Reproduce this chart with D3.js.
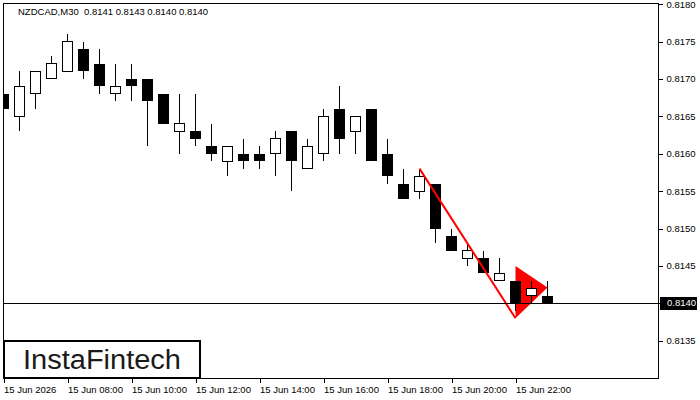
<!DOCTYPE html>
<html>
<head>
<meta charset="utf-8">
<script src="https://cdn.jsdelivr.net/npm/d3@7"></script>
<style>
  html, body { margin: 0; padding: 0; background: #fff; }
  svg { display: block; }
  text { font-family: "Liberation Sans", Arial, sans-serif; }
</style>
</head>
<body>
<svg id="chart" width="700" height="400"></svg>
<script>
// ---- data ----
const times = ["06:00","06:30","07:00","07:30","08:00","08:30","09:00","09:30","10:00","10:30",
  "11:00","11:30","12:00","12:30","13:00","13:30","14:00","14:30","15:00","15:30",
  "16:00","16:30","17:00","17:30","18:00","18:30","19:00","19:30","20:00","20:30",
  "21:00","21:30","22:00","22:30","23:00"];
const open  = [0.8168,0.8165,0.8168,0.8170,0.8171,0.8174,0.8172,0.8168,0.8170,0.8170,
  0.8168,0.8163,0.8163,0.8161,0.8159,0.8160,0.8160,0.8160,0.8163,0.8158,
  0.8160,0.8166,0.8163,0.8166,0.8160,0.8156,0.8155,0.8156,0.8149,0.8146,
  0.8146,0.8143,0.8143,0.8141,0.8141];
const high  = [0.8170,0.8171,0.8171,0.8173,0.8176,0.8175,0.8174,0.8172,0.8172,0.8170,
  0.8168,0.8168,0.8168,0.8164,0.8161,0.8162,0.8161,0.8163,0.8163,0.8162,
  0.8166,0.8169,0.8165,0.8166,0.8162,0.8158,0.8158,0.8156,0.8150,0.8148,
  0.8147,0.8146,0.8143,0.8143,0.8143];
const low   = [0.8165,0.8163,0.8166,0.8170,0.8171,0.8170,0.8168,0.8167,0.8167,0.8161,
  0.8164,0.8160,0.8161,0.8159,0.8157,0.8158,0.8158,0.8157,0.8155,0.8158,
  0.8159,0.8160,0.8160,0.8159,0.8156,0.8154,0.8154,0.8148,0.8147,0.8145,
  0.8144,0.8143,0.8139,0.8140,0.8140];
const close = [0.8166,0.8169,0.8171,0.8172,0.8175,0.8171,0.8169,0.8169,0.8169,0.8167,
  0.8164,0.8164,0.8162,0.8160,0.8161,0.8159,0.8159,0.8162,0.8159,0.8161,
  0.8165,0.8162,0.8165,0.8159,0.8157,0.8154,0.8157,0.8150,0.8147,0.8147,
  0.8144,0.8144,0.8140,0.8142,0.8140];

const priceTicks = [0.8135,0.8140,0.8145,0.8150,0.8155,0.8160,0.8165,0.8170,0.8175,0.8180];
const timeTicks  = ["06:00","08:00","10:00","12:00","14:00","16:00","18:00","20:00","22:00"];
const timeTickLabels = ["15 Jun 2026","15 Jun 08:00","15 Jun 10:00","15 Jun 12:00","15 Jun 14:00",
  "15 Jun 16:00","15 Jun 18:00","15 Jun 20:00","15 Jun 22:00"];

const currentPrice = 0.8140;
const titleText = "NZDCAD,M30  0.8141 0.8143 0.8140 0.8140";

// pennant pattern
const poleTimes  = ["19:00","22:00"];
const polePrices = [0.8158, 0.8138];
const flagTimes  = ["22:00","22:00","23:00"];
const flagPrices = [0.8145, 0.8138, 0.81421];

// ---- layout ----
const L = 3, T = 3, R = 659, B = 379;
const svg = d3.select("#chart");
svg.append("rect").attr("width",700).attr("height",400).attr("fill","#fff");

const x = d3.scalePoint().domain(times).range([3, 3 + 16*(times.length-1)]);
const y = d3.scaleLinear().domain([0.8135, 0.8180]).range([340.7, 4.1]);

svg.append("defs").append("clipPath").attr("id","plotclip")
  .append("rect").attr("x",L).attr("y",T).attr("width",R-L).attr("height",B-T);

const plot = svg.append("g").attr("clip-path","url(#plotclip)");

// flag triangle (behind candles)
plot.append("path")
  .attr("d", d3.line()(flagTimes.map((t,i)=>[x(t)+0.5, y(flagPrices[i])])) + "Z")
  .attr("fill","#ff0000");

// candles
const candles = times.map((t,i)=>({t, o:open[i], h:high[i], l:low[i], c:close[i]}));
const cg = plot.append("g").attr("shape-rendering","crispEdges");
cg.selectAll("line.wick").data(candles).join("line")
  .attr("x1", d=>x(d.t)+0.5).attr("x2", d=>x(d.t)+0.5)
  .attr("y1", d=>y(d.h)).attr("y2", d=>y(d.l))
  .attr("stroke","#000").attr("stroke-width",1);
cg.selectAll("rect.body").data(candles).join("rect")
  .attr("x", d=> d.c >= d.o ? x(d.t)-4.5 : x(d.t)-5)
  .attr("width", d=> d.c >= d.o ? 10 : 11)
  .attr("y", d=> y(Math.max(d.o,d.c)))
  .attr("height", d=> Math.max(1, y(Math.min(d.o,d.c)) - y(Math.max(d.o,d.c))))
  .attr("fill", d=> d.c >= d.o ? "#fff" : "#000")
  .attr("stroke", d=> d.c >= d.o ? "#000" : "none")
  .attr("stroke-width",1);

// pole line
plot.append("path")
  .attr("d", d3.line()(poleTimes.map((t,i)=>[x(t)+0.5, y(polePrices[i])])))
  .attr("fill","none").attr("stroke","#ff0000").attr("stroke-width",2);

// current price line
svg.append("line").attr("x1",L).attr("x2",R)
  .attr("y1", Math.round(y(currentPrice))+0.5).attr("y2", Math.round(y(currentPrice))+0.5)
  .attr("stroke","#000").attr("stroke-width",1).attr("shape-rendering","crispEdges");

// frame
svg.append("rect").attr("x",L+0.5).attr("y",T+0.5).attr("width",R-L-1).attr("height",B-T-1)
  .attr("fill","none").attr("stroke","#000").attr("stroke-width",1).attr("shape-rendering","crispEdges");

// right axis
const ya = svg.append("g").attr("transform",`translate(${R-0.5},0)`)
  .call(d3.axisRight(y).tickValues(priceTicks).tickFormat(d3.format(".4f")).tickSize(4).tickPadding(4));
ya.select(".domain").remove();
ya.selectAll("line").attr("stroke","#000").attr("shape-rendering","crispEdges");
ya.selectAll("text").attr("font-size","9.5px").attr("fill","#000")
  .attr("font-family","'Liberation Sans', Arial, sans-serif");

// current price label
const cpy = y(currentPrice);
svg.append("rect").attr("x",660).attr("y",Math.round(cpy)-6).attr("width",37).attr("height",13).attr("fill","#000");
svg.append("text").attr("x",667).attr("y",cpy).attr("dy","0.32em")
  .attr("font-size","9.5px").attr("fill","#fff").text(d3.format(".4f")(currentPrice));

// bottom axis
const xa = svg.append("g").attr("transform",`translate(0.5,${B})`)
  .call(d3.axisBottom(x).tickValues(timeTicks)
    .tickFormat((d,i)=>timeTickLabels[i]).tickSize(4).tickPadding(3));
xa.select(".domain").remove();
xa.selectAll("line").attr("stroke","#000").attr("shape-rendering","crispEdges");
xa.selectAll("text").attr("text-anchor","start").attr("dx","0px")
  .attr("font-size","9.5px").attr("fill","#000")
  .attr("font-family","'Liberation Sans', Arial, sans-serif");

// title
svg.append("text").attr("x",18).attr("y",15).attr("font-size","9.5px").attr("fill","#000")
  .style("white-space","pre").text(titleText);

// logo
svg.append("rect").attr("x",4).attr("y",341).attr("width",196).attr("height",37)
  .attr("fill","#fff").attr("stroke","#000").attr("stroke-width",2);
svg.append("text").attr("x",23).attr("y",369)
  .attr("font-family","Inter, 'Open Sans', sans-serif").attr("font-weight",500)
  .attr("font-size","27px").attr("fill","#1a1a1a")
  .attr("textLength",158).attr("lengthAdjust","spacingAndGlyphs")
  .text("InstaFintech");
</script>
</body>
</html>
